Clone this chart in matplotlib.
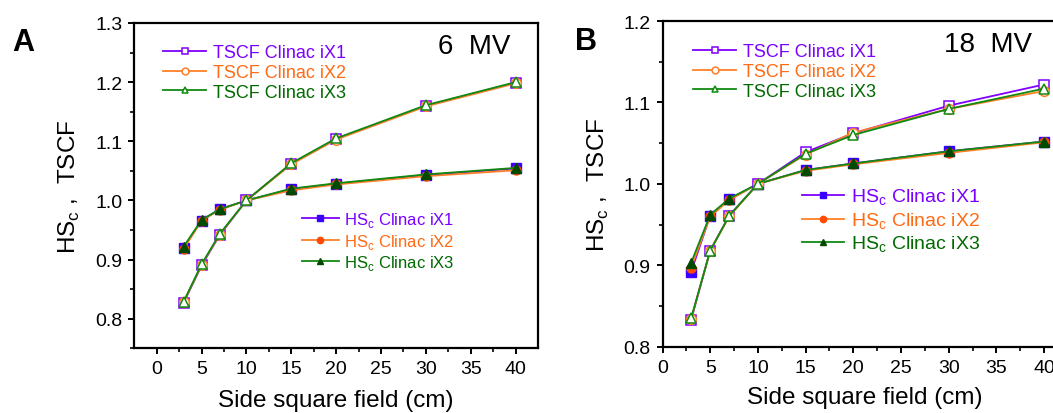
import matplotlib
matplotlib.use("Agg")
import matplotlib.pyplot as plt

plt.rcParams["font.family"] = ["Liberation Sans", "DejaVu Sans"]
plt.rcParams["mathtext.fontset"] = "custom"
plt.rcParams["mathtext.rm"] = "Liberation Sans"

# field sizes (cm)
field = [3, 5, 7, 10, 15, 20, 30, 40]

# 6 MV
tscf_6_ix1 = [0.827, 0.890, 0.941, 1.0, 1.062, 1.104, 1.160, 1.199]
tscf_6_ix2 = [0.828, 0.891, 0.942, 1.0, 1.061, 1.103, 1.159, 1.198]
tscf_6_ix3 = [0.829, 0.892, 0.943, 1.0, 1.063, 1.105, 1.161, 1.200]
hsc_6_ix1 = [0.920, 0.966, 0.985, 1.0, 1.019, 1.028, 1.043, 1.054]
hsc_6_ix2 = [0.918, 0.966, 0.984, 1.0, 1.017, 1.027, 1.041, 1.051]
hsc_6_ix3 = [0.922, 0.967, 0.985, 1.0, 1.020, 1.029, 1.044, 1.055]

# 18 MV
tscf_18_ix1 = [0.833, 0.918, 0.961, 1.0, 1.039, 1.062, 1.096, 1.122]
tscf_18_ix2 = [0.834, 0.918, 0.960, 1.0, 1.036, 1.063, 1.092, 1.114]
tscf_18_ix3 = [0.835, 0.918, 0.961, 1.0, 1.037, 1.060, 1.092, 1.117]
hsc_18_ix1 = [0.892, 0.961, 0.981, 1.0, 1.017, 1.025, 1.040, 1.052]
hsc_18_ix2 = [0.897, 0.960, 0.980, 1.0, 1.016, 1.024, 1.038, 1.051]
hsc_18_ix3 = [0.903, 0.962, 0.982, 1.0, 1.017, 1.025, 1.040, 1.052]

machines = ["iX1", "iX2", "iX3"]
line_cols = ["#8000ff", "#ff7f27", "#108a10"]
fill_cols = ["#3a00ff", "#ff4a00", "#004a00"]
text_cols = ["#7a00ff", "#ff6a13", "#006a00"]
open_mk = ["s", "o", "^"]
fill_mk = ["s", "o", "^"]

W, H = 1053, 414
fig = plt.figure(figsize=(W / 100, H / 100), dpi=100)


def px_axes(left, right, top, bottom):
    return fig.add_axes([left / W, 1 - bottom / H, (right - left) / W, (bottom - top) / H])


def draw_panel(ax, tscf, hsc, xlim, ylim, major_y, minor_y, energy, ex, ey,
               leg1, leg2, hs_size):
    t_lines = []
    h_lines = []
    for i in range(3):
        l, = ax.plot(field, hsc[i], color=line_cols[i], lw=1.3, marker=fill_mk[i],
                     ms=6.5, mfc=fill_cols[i], mec=fill_cols[i], zorder=3 + i)
        h_lines.append(l)
    for i in range(3):
        l, = ax.plot(field, tscf[i], color=line_cols[i], lw=1.3, marker=open_mk[i],
                     ms=7, mfc="white", mec=line_cols[i], mew=1.1, zorder=6 + i)
        t_lines.append(l)

    ax.set_xlim(*xlim)
    ax.set_ylim(*ylim)
    ax.set_xticks([0, 5, 10, 15, 20, 25, 30, 35, 40])
    ax.set_xticks([2.5 + 5 * k for k in range(8)], minor=True)
    ax.set_yticks(major_y)
    ax.set_yticks(minor_y, minor=True)
    ax.yaxis.set_major_formatter(matplotlib.ticker.FormatStrFormatter("%.1f"))
    ax.tick_params(which="major", direction="out", length=4.5, width=1.4,
                   labelsize=14, pad=4)
    ax.tick_params(which="minor", direction="out", length=3, width=1.2)
    ax.tick_params(top=False, right=False)
    for s in ax.spines.values():
        s.set_linewidth(1.6)

    ax.set_xlabel("Side square field (cm)", fontsize=17.5)
    ax.set_ylabel(r"HS$_\mathregular{c}$ ,  TSCF", fontsize=17.5)

    ax.text(ex, ey, energy, transform=ax.transAxes, fontsize=20,
            ha="right", va="center")

    lg1 = ax.legend(t_lines, ["TSCF Clinac " + m for m in machines],
                    loc="upper left", bbox_to_anchor=leg1, frameon=False,
                    fontsize=13, handlelength=2.4, handletextpad=0.35,
                    labelspacing=0.15, borderpad=0, borderaxespad=0,
                    markerscale=0.7, labelcolor=text_cols)
    ax.add_artist(lg1)
    ax.legend(h_lines, [r"HS$_\mathregular{c}$ Clinac " + m for m in machines],
              loc="upper left", bbox_to_anchor=leg2, frameon=False,
              fontsize=hs_size, handlelength=2.2, handletextpad=0.35,
              labelspacing=0.15, borderpad=0, borderaxespad=0,
              markerscale=0.7, labelcolor=text_cols)


# panel A: 6 MV
axA = px_axes(134.3, 538, 24, 349.3)
draw_panel(axA,
           [tscf_6_ix1, tscf_6_ix2, tscf_6_ix3],
           [hsc_6_ix1, hsc_6_ix2, hsc_6_ix3],
           (-2.5, 42.5), (0.75, 1.3),
           [0.8, 0.9, 1.0, 1.1, 1.2, 1.3], [0.75, 0.85, 0.95, 1.05, 1.15, 1.25],
           "6  MV", 0.931, 0.930, (0.071, 0.935), (0.415, 0.425), 12)
axA.yaxis.set_label_coords(-0.13, 0.5)
axA.xaxis.set_label_coords(0.5, -0.125)

# panel B: 18 MV (right side cropped in the original)
axB = px_axes(662.5, 662.5 + 42.5 * 9.54, 22, 347.7)
draw_panel(axB,
           [tscf_18_ix1, tscf_18_ix2, tscf_18_ix3],
           [hsc_18_ix1, hsc_18_ix2, hsc_18_ix3],
           (0, 42.5), (0.8, 1.2),
           [0.8, 0.9, 1.0, 1.1, 1.2], [0.85, 0.95, 1.05, 1.15],
           "18  MV", 0.911, 0.929, (0.075, 0.932), (0.343, 0.49), 14)
axB.yaxis.set_label_coords(-0.127, 0.5)
axB.xaxis.set_label_coords(0.5, -0.122)

fig.text(23.5 / W, 1 - 43 / H, "A", fontsize=22, fontweight="bold",
         ha="center", va="center")
fig.text(586.5 / W, 1 - 42.5 / H, "B", fontsize=22, fontweight="bold",
         ha="center", va="center")

fig.savefig("out.png", dpi=100)
